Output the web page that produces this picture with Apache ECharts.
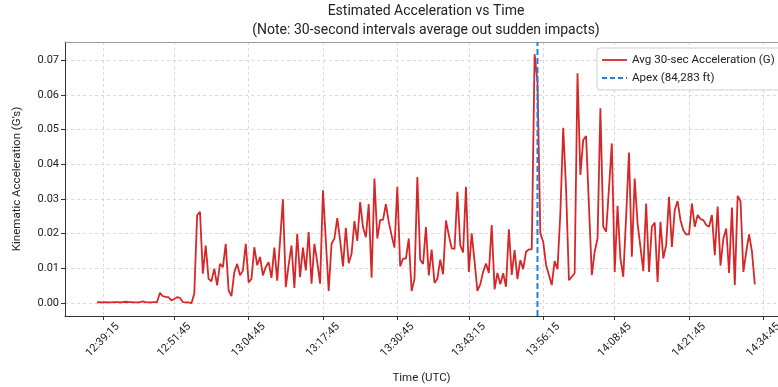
<!DOCTYPE html>
<html><head><meta charset="utf-8">
<script src="https://cdn.jsdelivr.net/npm/echarts@6/dist/echarts.min.js"></script>
<style>html,body{margin:0;padding:0;background:#fff}#c{width:778px;height:387px}</style>
</head><body><div id="c"></div>
<script>
// ---- data ----
const START_TIME = '12:38:15';     // first 30-sec bin (UTC)
const STEP_SECONDS = 30;           // bin width
const accel = [
 0.0002,0.0003,0.0002,0.0003,0.0002,0.0002,0.0003,0.0003,0.0002,0.0003,
 0.0004,0.0003,0.0003,0.0002,0.0002,0.0003,0.0005,0.0003,0.0002,0.0002,
 0.0003,0.0003,0.0030,0.0020,0.0018,0.0017,0.0008,0.0012,0.0017,0.0015,
 0.0003,0.0002,0.0002,0.0000,0.0027,0.0253,0.0263,0.0085,0.0166,0.0070,
 0.0063,0.0099,0.0051,0.0113,0.0104,0.0171,0.0037,0.0020,0.0089,0.0113,
 0.0080,0.0094,0.0171,0.0060,0.0070,0.0161,0.0109,0.0133,0.0080,0.0104,
 0.0118,0.0073,0.0160,0.0065,0.0180,0.0299,0.0046,0.0110,0.0166,0.0044,
 0.0200,0.0075,0.0160,0.0094,0.0205,0.0056,0.0171,0.0118,0.0056,0.0325,
 0.0180,0.0035,0.0171,0.0186,0.0245,0.0181,0.0106,0.0217,0.0115,0.0142,
 0.0236,0.0179,0.0291,0.0219,0.0190,0.0285,0.0073,0.0359,0.0186,0.0240,
 0.0240,0.0285,0.0234,0.0195,0.0160,0.0335,0.0106,0.0128,0.0128,0.0186,
 0.0035,0.0070,0.0363,0.0125,0.0113,0.0219,0.0080,0.0154,0.0058,0.0070,
 0.0125,0.0083,0.0238,0.0196,0.0158,0.0156,0.0321,0.0167,0.0146,0.0335,
 0.0090,0.0201,0.0121,0.0035,0.0054,0.0090,0.0114,0.0087,0.0225,0.0040,
 0.0087,0.0054,0.0086,0.0047,0.0213,0.0081,0.0153,0.0069,0.0124,0.0098,
 0.0148,0.0155,0.0155,0.0717,0.0638,0.0201,0.0177,0.0110,0.0081,0.0052,
 0.0121,0.0098,0.0258,0.0505,0.0330,0.0066,0.0076,0.0086,0.0662,0.0369,
 0.0470,0.0481,0.0280,0.0081,0.0148,0.0186,0.0561,0.0220,0.0206,0.0330,
 0.0460,0.0090,0.0280,0.0129,0.0076,0.0250,0.0434,0.0134,0.0359,0.0230,
 0.0162,0.0092,0.0287,0.0090,0.0220,0.0232,0.0061,0.0234,0.0129,0.0167,
 0.0306,0.0162,0.0268,0.0294,0.0239,0.0210,0.0198,0.0198,0.0287,0.0220,
 0.0254,0.0242,0.0239,0.0225,0.0220,0.0254,0.0138,0.0278,0.0108,0.0186,
 0.0215,0.0087,0.0275,0.0052,0.0309,0.0294,0.0090,0.0148,0.0198,0.0148,
 0.0054
];
const xTickLabels = ['12:39:15','12:51:45','13:04:45','13:17:45','13:30:45',
                     '13:43:15','13:56:15','14:08:45','14:21:45','14:34:45'];
const yTickValues = [0, 0.01, 0.02, 0.03, 0.04, 0.05, 0.06, 0.07];
const APEX_TIME = '13:55:15';
const APEX_LABEL = 'Apex (84,283 ft)';
const SERIES_LABEL = 'Avg 30-sec Acceleration (G)';
const X_MIN = '12:32:39', X_MAX = '14:39:03';
const Y_MIN = -0.0037, Y_MAX = 0.0752;

// ---- helpers (x values are seconds since 00:00 UTC) ----
function toSec(s){ const p = s.split(':').map(Number); return p[0]*3600 + p[1]*60 + p[2]; }
function pad(n){ return (n<10?'0':'')+n; }
function fmt(sec){ sec = Math.round(sec); return pad(Math.floor(sec/3600))+':'+pad(Math.floor(sec%3600/60))+':'+pad(sec%60); }

const t0 = toSec(START_TIME);
const lineData = accel.map((v,i)=>[t0 + i*STEP_SECONDS, v]);
const apexT = toSec(APEX_TIME);
const apexData = [[apexT, Y_MIN], [apexT, Y_MAX]];
const xTicks = xTickLabels.map(toSec);

const FONT = 'Roboto, "Noto Sans", sans-serif';
const RED = '#d62728', BLUE = '#1f80e0';
const chart = echarts.init(document.getElementById('c'), null, {renderer:'canvas'});
chart.setOption({
  animation:false,
  backgroundColor:'#fff',
  textStyle:{fontFamily:FONT},
  graphic:[
    {type:'text', x:426, y:4, style:{text:'Estimated Acceleration vs Time', font:'14px '+FONT, fill:'#222', textAlign:'center'}},
    {type:'text', x:426, y:23, style:{text:'(Note: 30-second intervals average out sudden impacts)', font:'14px '+FONT, fill:'#222', textAlign:'center'}}
  ],
  legend:{
    left:597, top:48, orient:'vertical', itemWidth:25, itemHeight:10, itemGap:6,
    padding:[6,8,6,4], borderColor:'#cfcfcf', borderWidth:1, borderRadius:3,
    backgroundColor:'rgba(255,255,255,0.9)',
    itemStyle:{opacity:0},
    textStyle:{fontSize:11.6, color:'#222', fontFamily:FONT},
    data:[
      {name:SERIES_LABEL, lineStyle:{color:RED, width:1.8, type:'solid'}},
      {name:APEX_LABEL, lineStyle:{color:BLUE, width:2, type:[5,3]}}
    ]
  },
  grid:{left:65, top:42, width:723, bottom:71, show:false, containLabel:false, outerBoundsMode:'none'},
  xAxis:[{
    type:'value', min:toSec(X_MIN), max:toSec(X_MAX), scale:true,
    name:'Time (UTC)', nameLocation:'middle', nameGap:56,
    nameTextStyle:{fontSize:11.5, color:'#222', fontFamily:FONT, padding:[0,0,0,-10]},
    axisLine:{show:true, onZero:false, lineStyle:{color:'#333', width:1}},
    axisTick:{show:true, length:4, customValues:xTicks, lineStyle:{color:'#333'}},
    axisLabel:{customValues:xTicks, rotate:45, fontSize:11, color:'#222', margin:24,
               align:'center', verticalAlign:'middle', formatter:(v)=>fmt(v), hideOverlap:false},
    splitLine:{show:true, lineStyle:{color:'#d0d0d0', type:[3,3], width:0.8}}
  },{
    type:'value', position:'top', min:toSec(X_MIN), max:toSec(X_MAX),
    axisLine:{show:true, onZero:false, lineStyle:{color:'#999', width:1}},
    axisTick:{show:false}, axisLabel:{show:false}, splitLine:{show:false}
  }],
  yAxis:{
    type:'value', min:Y_MIN, max:Y_MAX,
    name:"Kinematic Acceleration (G's)", nameLocation:'middle', nameGap:42,
    nameTextStyle:{fontSize:11.5, color:'#222', fontFamily:FONT},
    axisLine:{show:true, onZero:false, lineStyle:{color:'#333', width:1}},
    axisTick:{show:true, length:4, customValues:yTickValues, lineStyle:{color:'#333'}},
    axisLabel:{customValues:yTickValues, fontSize:11, color:'#222', margin:6, formatter:(v)=>v.toFixed(2)},
    splitLine:{show:true, lineStyle:{color:'#d0d0d0', type:[3,3], width:0.8}}
  },
  series:[
    {name:SERIES_LABEL, type:'line', data:lineData, symbol:'none', showSymbol:false,
     lineStyle:{color:RED, width:1.8}, itemStyle:{color:RED}, z:3},
    {name:APEX_LABEL, type:'line', data:apexData, symbol:'none', showSymbol:false,
     lineStyle:{color:BLUE, width:2, type:[6,3]}, itemStyle:{color:BLUE}, z:4}
  ]
});
</script></body></html>
